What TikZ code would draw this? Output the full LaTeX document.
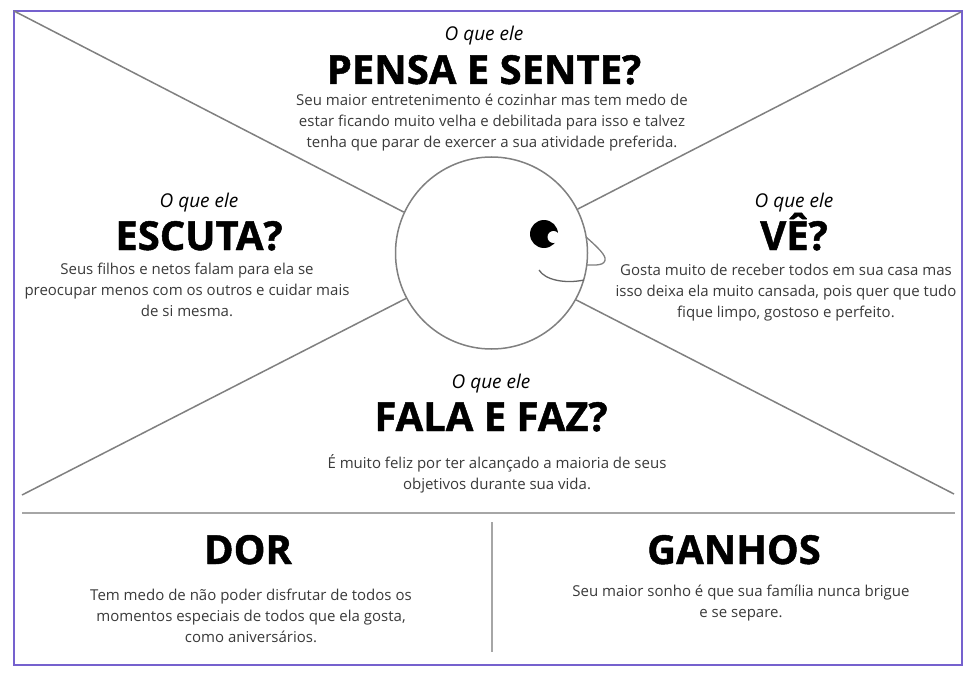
\documentclass[tikz,border=0pt]{standalone}
\usepackage{fontspec}
\setmainfont{Open Sans}
\newfontfamily\heavyfont[BoldFeatures={FakeBold=1.2}]{Open Sans}
\usepackage{tikz}
\definecolor{frameblue}{HTML}{7561CE}
\definecolor{linegray}{HTML}{808080}
\definecolor{bodygray}{HTML}{3A3A3A}
\begin{document}
\begin{tikzpicture}[x=1pt,y=-1pt,
   title/.style={font=\fontsize{40}{44}\selectfont\heavyfont\bfseries,text=black,inner sep=0pt,anchor=base},
   sub/.style={font=\fontsize{19}{20}\selectfont\itshape,text=black,inner sep=0pt},
   body/.style={font=\fontsize{15}{21}\selectfont,text=bodygray,align=center,inner sep=0pt},
   rule/.style={draw=linegray,line width=1.5pt},
   sep/.style={draw=linegray!70,line width=1.8pt}]
   \useasboundingbox (0,0) rectangle (980,682);
   \draw[frameblue,line width=2.4pt,fill=white] (14,11) rectangle (962,665);
   \node[circle,draw=linegray,line width=1.5pt,minimum size=192pt,inner sep=0pt] (head) at (491.5,253) {};
   \coordinate (tl) at (14,11);
   \coordinate (tr) at (961,12);
   \coordinate (bl) at (22,495);
   \coordinate (br) at (954,494);
   \path[rule]
   (tl) edge (head.155)
   (tr) edge (head.27)
   (bl) edge (head.208)
   (br) edge (head.-29);
   % eye, nose and mouth
   \fill[black] (544,234) circle (14);
   \fill[white] (553.5,237) circle (6);
   \draw[rule,line width=1.3pt] (586,237) .. controls (594,244) and (604,253) .. (605,258) .. controls (606,266) and (596,265) .. (587,265);
   \draw[rule,draw=black!60,line width=1.3pt] (539,270) .. controls (545,280) and (565,284) .. (584,280);
   % quadrants
   \node[sub] (s_pensa) at (484,36) {O que ele};
   \node[title] (t_pensa) at (484,84) {PENSA E SENTE?};
   \node[body] (b_pensa) at (492,123) {Seu maior entretenimento é cozinhar mas tem medo de\\estar ficando muito velha e debilitada para isso e talvez\\tenha que parar de exercer a sua atividade preferida.};
   \node[sub] (s_escuta) at (199,203) {O que ele};
   \node[title] (t_escuta) at (199,250) {ESCUTA?};
   \node[body] (b_escuta) at (187,290) {Seus filhos e netos falam para ela se\\preocupar menos com os outros e cuidar mais\\de si mesma.};
   \node[sub] (s_ve) at (794,203) {O que ele};
   \node[title] (t_ve) at (794,250) {VÊ?};
   \node[body] (b_ve) at (786,293) {Gosta muito de receber todos em sua casa mas\\isso deixa ela muito cansada, pois quer que tudo\\fique limpo, gostoso e perfeito.};
   \node[sub] (s_fala) at (491,384) {O que ele};
   \node[title] (t_fala) at (491,431) {FALA E FAZ?};
   \node[body] (b_fala) at (497,474) {É muito feliz por ter alcançado a maioria de seus\\objetivos durante sua vida.};
   % bottom part
   \coordinate (hl) at (22,513);
   \coordinate (hr) at (955,513);
   \coordinate (vt) at (492,522);
   \coordinate (vb) at (492,652);
   \path[sep] (hl) edge (hr) (vt) edge (vb);
   \node[title] (t_dor) at (248,564) {DOR};
   \node[body] (b_dor) at (251,616) {Tem medo de não poder disfrutar de todos os\\momentos especiais de todos que ela gosta,\\como aniversários.};
   \node[title] (t_ganhos) at (734,564) {GANHOS};
   \node[body] (b_ganhos) at (741,603) {Seu maior sonho é que sua família nunca brigue\\e se separe.};
\end{tikzpicture}
\end{document}
